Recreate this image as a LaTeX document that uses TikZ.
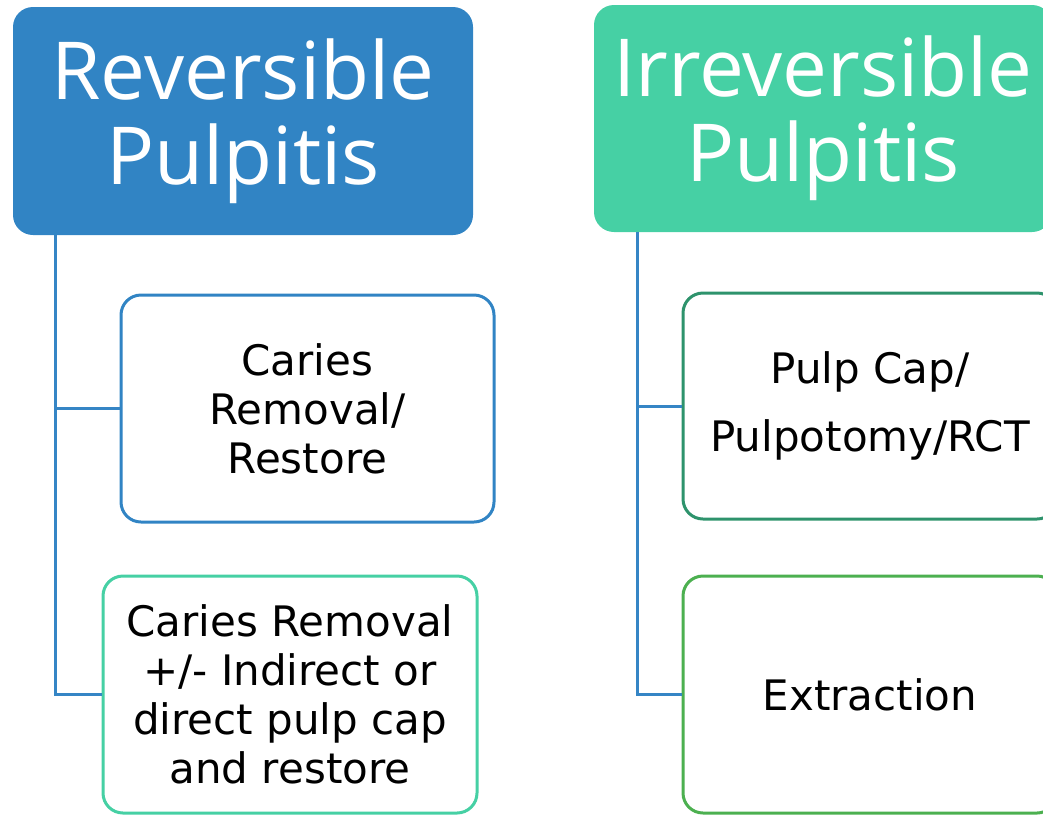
\documentclass[tikz,border=0pt]{standalone}
\usepackage{fontspec}
\usetikzlibrary{calc}
\newfontfamily\headfont{Open Sans}
\newfontfamily\bodyfont{DejaVu Sans}
\definecolor{revblue}{RGB}{49,132,196}
\definecolor{irrteal}{RGB}{70,208,164}
\definecolor{capgreen}{RGB}{46,147,108}
\definecolor{extgreen}{RGB}{76,176,80}
\definecolor{linkblue}{RGB}{53,133,197}
\begin{document}
\begin{tikzpicture}[x=1pt,y=-1pt,
  header/.style={rounded corners=20pt, inner sep=0pt, align=center,
    text=white, font=\headfont\fontsize{80}{85}\selectfont},
  item/.style={draw, line width=3pt, rounded corners=20pt, fill=white,
    inner sep=0pt, align=center, text=black,
    font=\bodyfont\fontsize{42}{49}\selectfont},
  conn/.style={draw=linkblue, line width=3pt}]
\useasboundingbox (0,0) rectangle (1043,815);
\begin{scope}
\clip (0,0) rectangle (1043,815);
% column headings
\node[header, fill=revblue, minimum width=460pt, minimum height=228pt]
  (h1) at (243,121) {Reversible\\Pulpitis};
\node[header, fill=irrteal, minimum width=458pt, minimum height=227pt]
  (h2) at (823,118.5) {Irreversible\\Pulpitis};
% treatment options
\node[item, draw=revblue, minimum width=373pt, minimum height=227pt]
  (c1) at (307.5,408.5) {Caries\\Removal/\\Restore};
\node[item, draw=irrteal, minimum width=374pt, minimum height=237pt]
  (c2) at (290,694.5) {Caries Removal\\+/- Indirect or\\direct pulp cap\\and restore};
\node[item, draw=capgreen, minimum width=374pt, minimum height=226pt,
  font=\bodyfont\fontsize{42}{68}\selectfont]
  (c3) at (870,406) {Pulp Cap/\\Pulpotomy/RCT};
\node[item, draw=extgreen, minimum width=374pt, minimum height=237pt]
  (c4) at (870,694.5) {Extraction};
% tree connectors
\coordinate (t1) at ($(h1.south west)+(43,0)$);
\draw[conn] (t1) |- (c2.west);
\draw[conn] (t1 |- c1.west) -- (c1.west);
\coordinate (t2) at ($(h2.south west)+(44,0)$);
\draw[conn] (t2) |- (c4.west);
\draw[conn] (t2 |- c3.west) -- (c3.west);
\end{scope}
\end{tikzpicture}
\end{document}
